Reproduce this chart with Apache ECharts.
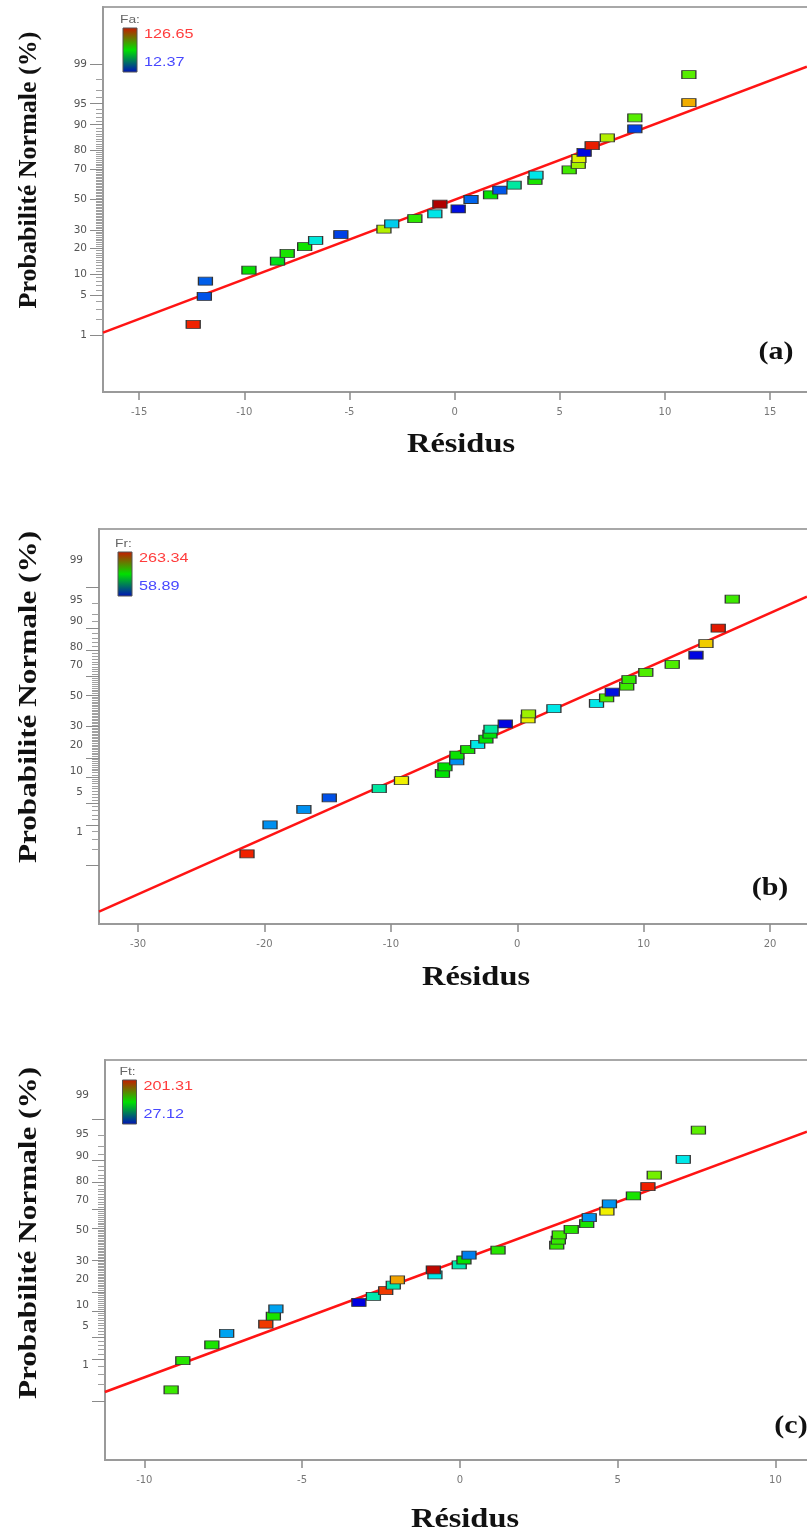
<!DOCTYPE html>
<html>
<head>
<meta charset="utf-8">
<script src="https://cdn.jsdelivr.net/npm/echarts@6/dist/echarts.min.js"></script>
<style>
html,body{margin:0;padding:0;background:#fff;}
#chart{width:807px;height:1535px;}
</style>
</head>
<body>
<div id="chart"></div>
<script>
// ---------------- DATA ----------------
// Panel (a) : Fa
const resA = [-12.43, -11.90, -11.85, -9.78, -8.42, -7.96, -7.13, -6.61, -5.41, -3.36, -2.99, -1.89, -0.94, 0.17, -0.70, 0.78, 1.71, 2.15, 2.83, 3.82, 3.87, 5.45, 5.88, 5.91, 6.16, 6.54, 7.26, 8.57, 8.57, 11.14, 11.14];
const pctA = [1.61, 4.84, 8.06, 11.29, 14.52, 17.74, 20.97, 24.19, 27.42, 30.65, 33.87, 37.10, 40.32, 43.55, 46.77, 50.00, 53.23, 56.45, 59.68, 62.90, 66.13, 69.35, 72.58, 75.81, 79.03, 82.26, 85.48, 88.71, 91.94, 95.16, 98.39];
const fA   = [117, 22, 24, 70, 68, 72, 71, 52, 20, 88, 44, 74, 50, 14, 126.65, 25, 70, 23, 60, 72, 50, 76, 86, 95, 13, 118, 88, 20, 78, 106, 78];
const fitResA = [-16.72, 16.75];
const fitPctA = [1.12, 98.86];
const rangeA = [12.37, 126.65];

// Panel (b) : Fr
const resB = [-21.38, -19.56, -16.88, -14.87, -10.92, -9.16, -5.92, -5.72, -4.79, -4.77, -3.92, -3.13, -2.48, -2.16, -2.08, -0.95, 0.85, 0.89, 2.90, 6.27, 7.07, 7.52, 8.66, 8.84, 10.17, 12.26, 14.14, 14.93, 15.90, 17.01];
const pctB = [1.67, 5.00, 8.33, 11.67, 15.00, 18.33, 21.67, 25.00, 28.33, 31.67, 35.00, 38.33, 41.67, 45.00, 48.33, 51.67, 55.00, 58.33, 61.67, 65.00, 68.33, 71.67, 75.00, 78.33, 81.67, 85.00, 88.33, 91.67, 95.00, 98.33];
const fB   = [246, 93, 93, 76, 144, 212, 161, 161, 93, 163, 165, 127, 162, 160, 144, 60, 210, 190, 127, 127, 175, 62, 172, 170, 175, 175, 60, 220, 250, 172];
const fitResB = [-33.09, 22.92];
const fitPctB = [0.099, 98.50];
const rangeB = [58.89, 263.34];

// Panel (c) : Ft
const resC = [-9.15, -8.78, -7.86, -7.39, -6.15, -5.91, -5.83, -3.20, -2.74, -2.35, -2.11, -1.98, -0.79, -0.84, -0.02, 0.13, 0.29, 1.21, 3.07, 3.12, 3.15, 3.53, 4.02, 4.10, 4.66, 4.74, 5.50, 5.96, 6.16, 7.08, 7.56];
const pctC = [1.61, 4.84, 8.06, 11.29, 14.52, 17.74, 20.97, 24.19, 27.42, 30.65, 33.87, 37.10, 40.32, 43.55, 46.77, 50.00, 53.23, 56.45, 59.68, 62.90, 66.13, 69.35, 72.58, 75.81, 79.03, 82.26, 85.48, 88.71, 91.94, 95.16, 98.39];
const fC   = [123, 120, 118, 62, 184, 118, 62, 27.12, 97, 184, 97, 172, 85, 198, 97, 115, 52, 120, 122, 122, 124, 120, 118, 57, 158, 57, 118, 187, 132, 85, 128];
const fitResC = [-11.25, 11.0];
const fitPctC = [1.47, 98.29];
const rangeC = [27.12, 201.31];

// tick labels
const yMajorPct = [1, 5, 10, 20, 30, 50, 70, 80, 90, 95, 99];
const xTicksA = [-15, -10, -5, 0, 5, 10, 15];
const xTicksB = [-30, -20, -10, 0, 10, 20];
const xTicksC = [-10, -5, 0, 5, 10];
const legendNames = ['Fa:', 'Fr:', 'Ft:'];
const panelTags = ['(a)', '(b)', '(c)'];

// ---------------- normal probability scale ----------------
function probit(p){
  const a=[-3.969683028665376e+01,2.209460984245205e+02,-2.759285104469687e+02,1.383577518672690e+02,-3.066479806614716e+01,2.506628277459239e+00];
  const b=[-5.447609879822406e+01,1.615858368580409e+02,-1.556989798598866e+02,6.680131188771972e+01,-1.328068155288572e+01];
  const c=[-7.784894002430293e-03,-3.223964580411365e-01,-2.400758277161838e+00,-2.549671010229708e+00,4.374664141464968e+00,2.938163982698783e+00];
  const d=[7.784695709041462e-03,3.224671290700398e-01,2.445134137142996e+00,3.754408661907416e+00];
  const pl=0.02425, ph=1-pl; let q,r;
  if(p<pl){q=Math.sqrt(-2*Math.log(p));return (((((c[0]*q+c[1])*q+c[2])*q+c[3])*q+c[4])*q+c[5])/((((d[0]*q+d[1])*q+d[2])*q+d[3])*q+1);}
  if(p<=ph){q=p-0.5;r=q*q;return (((((a[0]*r+a[1])*r+a[2])*r+a[3])*r+a[4])*r+a[5])*q/(((((b[0]*r+b[1])*r+b[2])*r+b[3])*r+b[4])*r+1);}
  q=Math.sqrt(-2*Math.log(1-p));return -(((((c[0]*q+c[1])*q+c[2])*q+c[3])*q+c[4])*q+c[5])/((((d[0]*q+d[1])*q+d[2])*q+d[3])*q+1);
}
const combPct = []; for (let k = 1; k <= 99; k++) combPct.push(k);
const combZ = combPct.map(p => probit(p/100));
const majorZ = yMajorPct.map(p => probit(p/100));
function pctLabel(v){
  let best = 0, bd = 1e9;
  majorZ.forEach((z,i)=>{ const dd = Math.abs(z - v); if (dd < bd){bd = dd; best = i;} });
  return String(yMajorPct[best]);
}

const COLORS = ['#0000e0','#0050e8','#0090f0','#00c0f0','#00e8e8','#00e8a0','#00e000','#60f000','#b8f000','#f0f000','#f0a000','#f02000','#b00000'];

// ---------------- layout ----------------
const panels = [
  {res:resA, pct:pctA, f:fA, fitRes:fitResA, fitPct:fitPctA, range:rangeA, xt:xTicksA,
   left:103, top:7, width:707, height:385, xmin:-16.72, xmax:16.9, lab:[-3.30, 3.305],
   ytitle:[29,170], ytScale:1.0, xtitle:[461,445], tag:[776,353], leg:[123,28]},
  {res:resB, pct:pctB, f:fB, fitRes:fitResB, fitPct:fitPctB, range:rangeB, xt:xTicksB,
   left:99, top:529, width:711.5, height:395, xmin:-33.09, xmax:23.2, lab:[-3.899, 2.856],
   ytitle:[29,697], ytScale:1.2, xtitle:[476,978], tag:[770,889], leg:[118,552]},
  {res:resC, pct:pctC, f:fC, fitRes:fitResC, fitPct:fitPctC, range:rangeC, xt:xTicksC,
   left:105, top:1060, width:713, height:400, xmin:-11.246, xmax:11.35, lab:[-3.951, 2.931],
   ytitle:[29,1233], ytScale:1.2, xtitle:[465,1520], tag:[791,1427], leg:[122.5,1080]}
];

const grid=[], xAxis=[], yAxis=[], series=[], visualMap=[], graphic=[];
const LINE_GRAY = '#9a9a9a';
panels.forEach((P, i) => {
  grid.push({left:P.left, top:P.top, width:P.width, height:P.height, show:true,
    borderColor:'#a8a8a8', borderWidth:2, backgroundColor:'transparent', outerBoundsMode:'none', containLabel:false});
  xAxis.push({type:'value', gridIndex:i, position:'bottom', min:P.xmin, max:P.xmax,
    axisLine:{show:true, onZero:false, lineStyle:{color:LINE_GRAY, width:2}},
    axisTick:{show:true, customValues:P.xt, length:8, lineStyle:{color:'#8a8a8a', width:1.5}},
    axisLabel:{customValues:P.xt, margin:15, color:'#777', fontSize:10, fontFamily:'DejaVu Sans'},
    splitLine:{show:false}});
  // main (probability) axis with the dense comb of 1% ticks
  yAxis.push({type:'value', gridIndex:i, position:'left', offset:0, min:-3.3, max:3.3,
    axisLine:{show:true, onZero:false, lineStyle:{color:LINE_GRAY, width:2}},
    axisTick:{show:true, customValues:combZ, length:7, lineStyle:{color:'#a0a0a0', width:1}},
    axisLabel:{show:false}, splitLine:{show:false}});
  // label axis
  yAxis.push({type:'value', gridIndex:i, position:'left', offset:0, min:P.lab[0], max:P.lab[1],
    axisLine:{show:false, onZero:false}, axisTick:{show:false},
    axisLabel:{show:true, customValues:majorZ, formatter:pctLabel, margin:16, color:'#555', fontSize:10.5, fontFamily:'DejaVu Sans'},
    splitLine:{show:false}});
  // long major ticks
  yAxis.push({type:'value', gridIndex:i, position:'left', offset:0, min:-3.3, max:3.3,
    axisLine:{show:false, onZero:false},
    axisTick:{show:true, customValues:majorZ, length:13, lineStyle:{color:'#8a8a8a', width:1}},
    axisLabel:{show:false}, splitLine:{show:false}});

  series.push({type:'line', xAxisIndex:i, yAxisIndex:3*i, silent:true, symbol:'none', z:2,
    data:P.fitRes.map((r,k)=>[r, probit(P.fitPct[k]/100)]),
    lineStyle:{color:'#ff1414', width:2.5}});
  const sIdx = series.length;
  series.push({type:'scatter', xAxisIndex:i, yAxisIndex:3*i, z:3, symbol:'rect', symbolSize:[14,8],
    data:P.res.map((r,k)=>[r, probit(P.pct[k]/100), P.f[k]]),
    itemStyle:{borderColor:'#333', borderWidth:1, opacity:1}});
  visualMap.push({type:'continuous', show:false, seriesIndex:sIdx, dimension:2,
    min:P.range[0], max:P.range[1], inRange:{color:COLORS}});

  // titles
  graphic.push({type:'text', x:P.ytitle[0], y:P.ytitle[1], rotation:Math.PI/2, scaleX:P.ytScale,
    style:{text:'Probabilité Normale (%)', font:'bold 26px "Liberation Serif"', fill:'#111', align:'center', verticalAlign:'middle'}});
  graphic.push({type:'text', x:P.xtitle[0], y:P.xtitle[1], scaleX:1.2,
    style:{text:'Résidus', font:'bold 27px "Liberation Serif"', fill:'#111', align:'center', verticalAlign:'middle'}});
  graphic.push({type:'text', x:P.tag[0], y:P.tag[1], scaleX:1.2,
    style:{text:panelTags[i], font:'bold 25px "Liberation Serif"', fill:'#111', align:'center', verticalAlign:'middle'}});
  // colour legend
  const lx = P.leg[0], ly = P.leg[1];
  graphic.push({type:'text', x:lx-3, y:ly-8, scaleX:1.2,
    style:{text:legendNames[i], font:'11.5px "Liberation Sans"', fill:'#666', align:'left', verticalAlign:'middle'}});
  graphic.push({type:'rect', shape:{x:lx, y:ly, width:14, height:44},
    style:{fill:new echarts.graphic.LinearGradient(0,0,0,1,[{offset:0,color:'#c81800'},{offset:0.5,color:'#00e000'},{offset:1,color:'#0010b8'}]), stroke:'#555', lineWidth:1}});
  graphic.push({type:'text', x:lx+21, y:ly+6, scaleX:1.2,
    style:{text:String(P.range[1].toFixed(2)), font:'13.5px "Liberation Sans"', fill:'#ff3c3c', align:'left', verticalAlign:'middle'}});
  graphic.push({type:'text', x:lx+21, y:ly+34, scaleX:1.2,
    style:{text:String(P.range[0].toFixed(2)), font:'13.5px "Liberation Sans"', fill:'#4848ff', align:'left', verticalAlign:'middle'}});
});

const chart = echarts.init(document.getElementById('chart'), null, {renderer:'canvas'});
chart.setOption({animation:false, backgroundColor:'#fff', grid, xAxis, yAxis, series, visualMap, graphic});
</script>
</body>
</html>
